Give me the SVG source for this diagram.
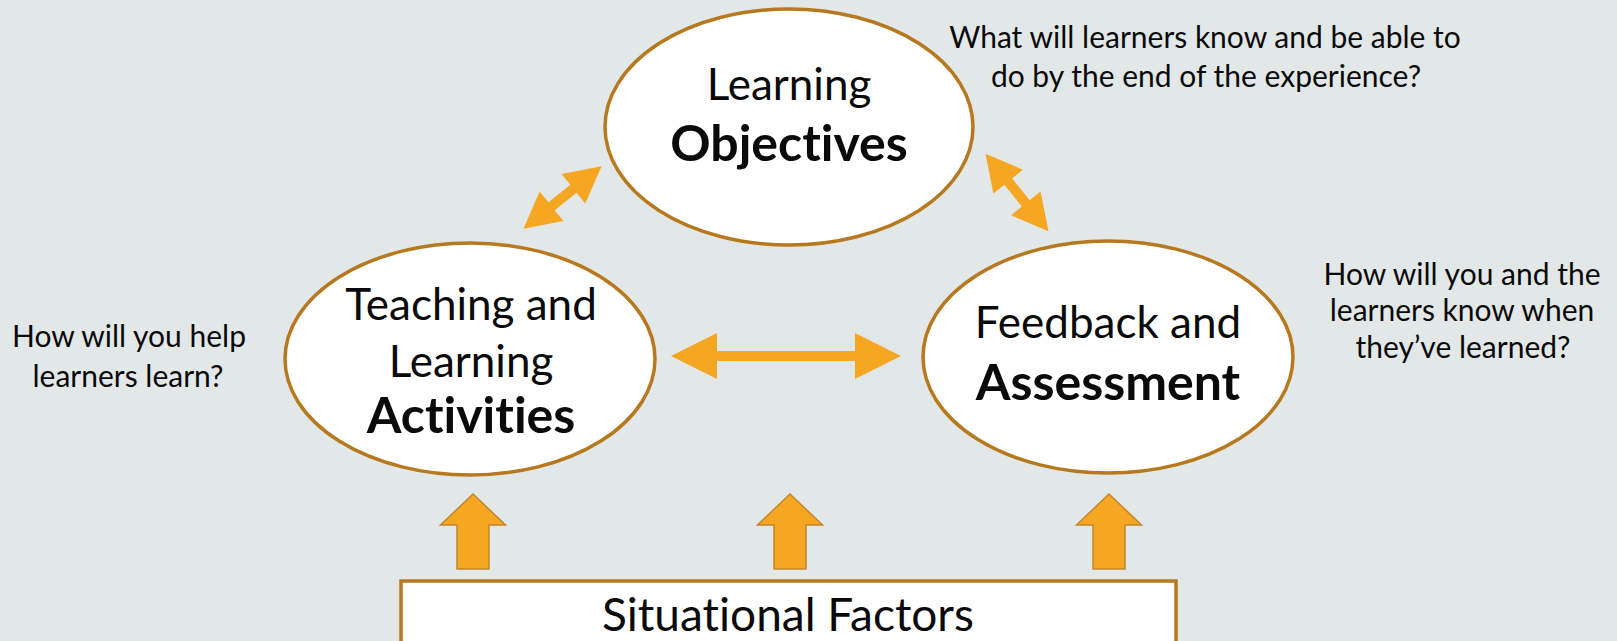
<svg xmlns="http://www.w3.org/2000/svg" width="1617" height="641" viewBox="0 0 1617 641">
<style>
.bg{fill:#E2E8E8}
.node{fill:#FFFFFF;stroke:#B7791F;stroke-width:3.5}
.t{font-family:Lato,"Open Sans","Liberation Sans",sans-serif;fill:#0A0A0A;text-anchor:middle;font-variant-ligatures:none}
.nt{font-size:44px}
.b{font-weight:bold;font-size:50px}
.q{font-size:30px}
.dbl{fill:#F5A623}
.up{fill:#F5A623;stroke:#C5862A;stroke-width:1.5}
</style>
<defs>
<polygon id="diag" points="-50,0 -14,-19 -14,-5 14,-5 14,-19 50,0 14,19 14,5 -14,5 -14,19"/>
<polygon id="uparrow" points="0,0 32.5,31 16,31 16,75 -16,75 -16,31 -32.5,31"/>
</defs>
<rect class="bg" x="0" y="0" width="1617" height="641"/>

<g id="connectors">
<use href="#diag" class="dbl" transform="translate(562.5,197.5) rotate(-38.6)"/>
<use href="#diag" class="dbl" transform="translate(1017,192.5) rotate(51)"/>
<polygon class="dbl" points="671,356 717,333 717,351 855,351 855,333 901,356 855,379 855,361 717,361 717,379"/>
<use href="#uparrow" class="up" transform="translate(473,494)"/>
<use href="#uparrow" class="up" transform="translate(790,494)"/>
<use href="#uparrow" class="up" transform="translate(1109,494)"/>
</g>

<g id="objectives">
<ellipse class="node" cx="789" cy="127" rx="184" ry="118"/>
<text class="t nt" x="789" y="100">Learning</text>
<text class="t nt b" x="789" y="161">Objectives</text>
</g>

<g id="activities">
<ellipse class="node" cx="470" cy="359" rx="185" ry="116"/>
<text class="t nt" x="471" y="320">Teaching and</text>
<text class="t nt" x="471" y="377">Learning</text>
<text class="t nt b" x="471" y="433">Activities</text>
</g>

<g id="assessment">
<ellipse class="node" cx="1108" cy="357" rx="185" ry="116"/>
<text class="t nt" x="1108" y="338">Feedback and</text>
<text class="t nt b" x="1108" y="400">Assessment</text>
</g>

<g id="situational">
<rect class="node" x="401" y="581" width="775" height="62"/>
<text class="t" x="788" y="631" font-size="46">Situational Factors</text>
</g>

<g id="questions">
<text class="t q" x="1205" y="48">What will learners know and be able to</text>
<text class="t q" x="1206" y="87">do by the end of the experience?</text>
<text class="t q" x="1462" y="285">How will you and the</text>
<text class="t q" x="1462" y="321">learners know when</text>
<text class="t q" x="1463" y="358">they’ve learned?</text>
<text class="t q" x="129" y="347">How will you help</text>
<text class="t q" x="128" y="387">learners learn?</text>
</g>
</svg>
